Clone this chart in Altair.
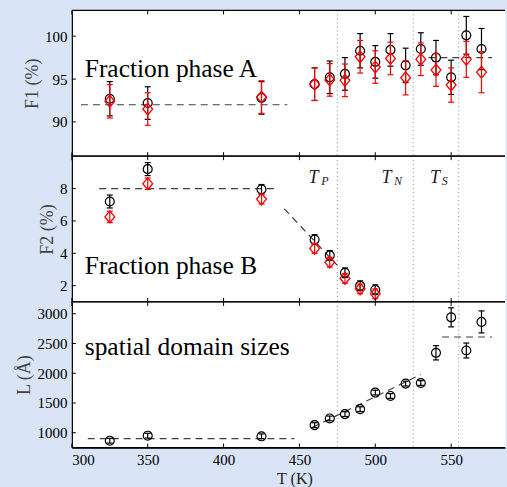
import altair as alt
import pandas as pd

# ---------------- data ----------------
T_F1 = [325, 350, 425, 460, 470, 480, 490, 500, 510, 520, 530, 540, 550, 560, 570]
F1_CIRC = [92.7, 92.2, 92.8, 94.4, 95.2, 95.6, 98.3, 97.0, 98.4, 96.6, 98.5, 97.5, 95.2, 100.1, 98.5]
F1_CIRC_ERR = [2.0, 1.9, 1.9, 1.9, 1.9, 1.9, 2.0, 1.9, 1.9, 2.0, 1.9, 2.0, 2.0, 2.2, 2.4]
F1_DIAM = [92.4, 91.5, 92.9, 94.4, 94.9, 94.85, 97.6, 96.4, 97.4, 95.15, 97.3, 96.05, 94.3, 97.3, 95.8]
F1_DIAM_ERR = [1.95, 1.9, 1.9, 1.9, 1.9, 1.9, 1.9, 1.9, 1.9, 2.0, 1.9, 1.9, 2.0, 2.1, 2.4]

T_F2 = [325, 350, 425, 460, 470, 480, 490, 500]
F2_CIRC = [7.2, 9.2, 7.95, 4.85, 3.87, 2.8, 2.0, 1.75]
F2_CIRC_ERR = [0.4, 0.4, 0.3, 0.3, 0.3, 0.3, 0.3, 0.3]
F2_DIAM = [6.25, 8.3, 7.35, 4.3, 3.45, 2.45, 1.8, 1.5]
F2_DIAM_ERR = [0.35, 0.35, 0.3, 0.3, 0.3, 0.3, 0.3, 0.3]

T_L = [325, 350, 425, 460, 470, 480, 490, 500, 510, 520, 530, 540, 550, 560, 570]
L_VAL = [866, 950, 940, 1128, 1240, 1313, 1396, 1675, 1618, 1826, 1836, 2344, 2940, 2383, 2863]
L_ERR = [40, 40, 40, 40, 40, 40, 40, 40, 40, 40, 40, 120, 160, 125, 185]

# dashed guide lines (segment end points)
F1_FIT_T = [306, 442, 535, 577]
F1_FIT_V = [92, 92, 97.5, 97.5]
F1_FIT_SEG = [0, 0, 1, 1]
F2_FIT_T = [318, 434, 440, 475]
F2_FIT_V = [8, 8, 6.75, 3.25]
F2_FIT_SEG = [0, 0, 1, 1]
L_FIT_T = [310.5, 446.7, 458.7, 530, 544, 577]
L_FIT_V = [900, 900, 1090, 1980, 2610, 2610]
L_FIT_SEG = [0, 0, 1, 1, 2, 2]

# transition temperatures
T_LINES = [475, 525, 555]
TRANS_MAIN = ["T", "T", "T"]
TRANS_SUB = ["P", "N", "S"]
TRANS_T_MAIN = [459.2, 507.4, 539.4]
TRANS_T_SUB = [466.8, 514.9, 545.7]
TRANS_V_MAIN = [8.37, 8.37, 8.37]
TRANS_V_SUB = [8.2, 8.2, 8.2]

# panel labels
PANEL_LABELS = ["Fraction phase A", "Fraction phase B", "spatial domain sizes"]
LABEL_T = [308.5, 308.5, 308.5]
LABEL_V = [95.2, 2.75, 2299]

# axes
X_TICKS = [300, 350, 400, 450, 500, 550]
Y1_TICKS = [90, 95, 100]
Y2_TICKS = [2, 4, 6, 8]
Y3_TICKS = [1000, 1500, 2000, 2500, 3000]
X_DOMAIN = [300, 585.5]
Y1_DOMAIN = [86, 103]
Y2_DOMAIN = [1.0, 10.0]
Y3_DOMAIN = [750, 3200]

W = 434
FONT = "Liberation Serif"
DIAMOND = "M0,-1.2L1,0L0,1.2L-1,0Z"


def make_panel(h, ydom, yticks, ytitle, series, fit, label_idx, bottom, trans=False):
    xs = alt.Scale(domain=X_DOMAIN, nice=False, zero=False)
    ys = alt.Scale(domain=ydom, nice=False, zero=False)
    if bottom:
        xax = alt.Axis(values=X_TICKS, title="T  (K)", ticks=False, domain=True,
                       labelPadding=5, titlePadding=3, titleX=223, titleColor="#222",
                       titleFontSize=16, format="d")
    else:
        xax = None
    yax = alt.Axis(values=yticks, title=ytitle, ticks=False, domain=True,
                   labelPadding=5, titlePadding=3, format="d")

    def X(f):
        return alt.X(f, type="quantitative", scale=xs, axis=xax)

    def Y(f):
        return alt.Y(f, type="quantitative", scale=ys, axis=yax)

    layers = []
    layers.append(alt.Chart(pd.DataFrame({"t": T_LINES})).mark_rule(
        color="#8a8a8a", strokeDash=[1, 3], strokeWidth=1).encode(x=X("t")))
    fdf = pd.DataFrame({"t": fit[0], "v": fit[1], "seg": fit[2]})
    layers.append(alt.Chart(fdf).mark_line(color="#404040", strokeDash=[7, 5], strokeWidth=1.2).encode(
        x=X("t"), y=Y("v"), detail="seg:N"))

    for (ts, vals, errs, kind) in series:
        df = pd.DataFrame({"t": ts, "v": vals,
                           "lo": [a - b for a, b in zip(vals, errs)],
                           "hi": [a + b for a, b in zip(vals, errs)]})
        col = "black" if kind == "circle" else "#ff0000"
        base = alt.Chart(df)
        layers.append(base.mark_rule(color=col, strokeWidth=1.2).encode(
            x=X("t"), y=Y("lo"), y2=alt.Y2("hi")))
        layers.append(base.mark_rule(color=col, strokeWidth=1.2, xOffset=-3, x2Offset=3).encode(
            x=X("t"), x2=alt.X2("t"), y=Y("lo")))
        layers.append(base.mark_rule(color=col, strokeWidth=1.2, xOffset=-3, x2Offset=3).encode(
            x=X("t"), x2=alt.X2("t"), y=Y("hi")))
        if kind == "circle":
            layers.append(base.mark_point(shape="circle", size=80, color="black", filled=False,
                                          strokeWidth=1.2, opacity=1).encode(
                x=X("t"), y=Y("v")))
        else:
            layers.append(base.mark_point(shape=DIAMOND, size=96, color="#ff0000", filled=False,
                                          strokeWidth=1.3, opacity=1).encode(
                x=X("t"), y=Y("v")))

    ldf = pd.DataFrame({"t": [LABEL_T[label_idx]], "v": [LABEL_V[label_idx]],
                        "s": [PANEL_LABELS[label_idx]]})
    layers.append(alt.Chart(ldf).mark_text(align="left", baseline="alphabetic", fontSize=25.5,
                                           font=FONT, color="black").encode(
        x=X("t"), y=Y("v"), text="s:N"))

    if trans:
        tdf = pd.DataFrame({"t": TRANS_T_MAIN, "v": TRANS_V_MAIN, "s": TRANS_MAIN})
        sdf = pd.DataFrame({"t": TRANS_T_SUB, "v": TRANS_V_SUB, "s": TRANS_SUB})
        layers.append(alt.Chart(tdf).mark_text(align="center", baseline="alphabetic", fontSize=18,
                                               fontStyle="italic", font=FONT, color="#222").encode(
            x=X("t"), y=Y("v"), text="s:N"))
        layers.append(alt.Chart(sdf).mark_text(align="center", baseline="alphabetic", fontSize=12,
                                               fontStyle="italic", font=FONT, color="#222").encode(
            x=X("t"), y=Y("v"), text="s:N"))

    xt = alt.Chart(pd.DataFrame({"t": X_TICKS}))
    layers.append(xt.mark_rule(color="black").encode(x=X("t"), y=alt.value(0), y2=alt.value(4)))
    layers.append(xt.mark_rule(color="black").encode(x=X("t"), y=alt.value(h - 4), y2=alt.value(h)))
    yt = alt.Chart(pd.DataFrame({"v": yticks}))
    layers.append(yt.mark_rule(color="black").encode(y=Y("v"), x=alt.value(0), x2=alt.value(4)))

    one = alt.Chart(pd.DataFrame({"a": [0]}))
    layers.append(one.mark_rule(color="black", strokeWidth=1.2).encode(
        x=alt.value(0), x2=alt.value(W), y=alt.value(0)))
    layers.append(one.mark_rule(color="black", strokeWidth=1.2).encode(
        x=alt.value(0), x2=alt.value(W), y=alt.value(h)))

    return alt.layer(*layers).properties(width=W, height=h)


p1 = make_panel(146, Y1_DOMAIN, Y1_TICKS, "F1  (%)",
                [(T_F1, F1_CIRC, F1_CIRC_ERR, "circle"), (T_F1, F1_DIAM, F1_DIAM_ERR, "diamond")],
                (F1_FIT_T, F1_FIT_V, F1_FIT_SEG), 0, False)
p2 = make_panel(146, Y2_DOMAIN, Y2_TICKS, "F2  (%)",
                [(T_F2, F2_CIRC, F2_CIRC_ERR, "circle"), (T_F2, F2_DIAM, F2_DIAM_ERR, "diamond")],
                (F2_FIT_T, F2_FIT_V, F2_FIT_SEG), 1, False, trans=True)
p3 = make_panel(146, Y3_DOMAIN, Y3_TICKS, "L  (Å)",
                [(T_L, L_VAL, L_ERR, "circle")],
                (L_FIT_T, L_FIT_V, L_FIT_SEG), 2, True)

chart = alt.vconcat(p1, p2, p3, spacing=0, bounds="flush").properties(
    background="#d9e5f6",
    padding={"left": 15, "top": 8, "right": 0, "bottom": 0},
).configure_view(fill="white", stroke="transparent").configure_axis(
    labelFont=FONT, titleFont=FONT, labelFontSize=15, titleFontSize=18,
    labelColor="black", titleColor="#444", titleFontWeight="normal",
    grid=False, domainColor="black", domainWidth=1.2,
).configure_text(font=FONT)

chart.save("out.html", embed_options={"renderer": "svg", "actions": False})
